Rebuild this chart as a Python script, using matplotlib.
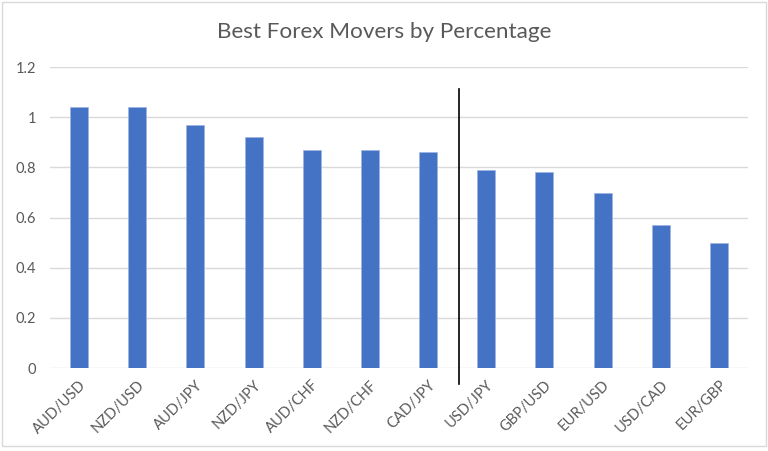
import matplotlib.pyplot as plt
from matplotlib.patches import Rectangle

pairs = ['AUD/USD', 'NZD/USD', 'AUD/JPY', 'NZD/JPY', 'AUD/CHF', 'NZD/CHF',
         'CAD/JPY', 'USD/JPY', 'GBP/USD', 'EUR/USD', 'USD/CAD', 'EUR/GBP']
moves = [1.04, 1.04, 0.97, 0.92, 0.87, 0.87, 0.86, 0.79, 0.78, 0.70, 0.57, 0.50]
yticks = [0, 0.2, 0.4, 0.6, 0.8, 1, 1.2]
ytick_labels = ['0', '0.2', '0.4', '0.6', '0.8', '1', '1.2']

plt.rcParams['font.family'] = ['Lato', 'DejaVu Sans']
text_col = '#595959'

fig = plt.figure(figsize=(7.68, 4.51), dpi=100)
ax = fig.add_axes([0.065, 0.184, 0.909, 0.667])

x = range(len(pairs))
ax.bar(x, moves, width=0.31, color='#4472C4', edgecolor='#9DB5E3', linewidth=0.5, zorder=3)

ax.set_xlim(-0.5, len(pairs) - 0.5)
ax.set_ylim(0, 1.2)
ax.set_yticks(yticks)
ax.set_yticklabels(ytick_labels, fontsize=10.5, color=text_col)
ax.set_xticks(list(x))
ax.set_xticklabels(pairs, rotation=45, ha='right', rotation_mode='anchor',
                   fontsize=10.5, color=text_col)
ax.tick_params(length=0, pad=10)
ax.tick_params(axis='x', pad=7)
ax.grid(axis='y', color='#D9D9D9', linewidth=1, zorder=0)
for s in ax.spines.values():
    s.set_visible(False)

# divider line between the two groups
ax.plot([6.53, 6.53], [-0.064, 1.112], color='black', linewidth=1.2, clip_on=False, zorder=4)

fig.text(0.5, 0.928, 'Best Forex Movers by Percentage', ha='center', va='center',
         fontsize=16.2, color=text_col)

# chart border
fig.patches.append(Rectangle((0.002, 0.01), 0.996, 0.985, transform=fig.transFigure,
                             fill=False, edgecolor='#D9D9D9', linewidth=1))

fig.savefig('out.png', dpi=100)
